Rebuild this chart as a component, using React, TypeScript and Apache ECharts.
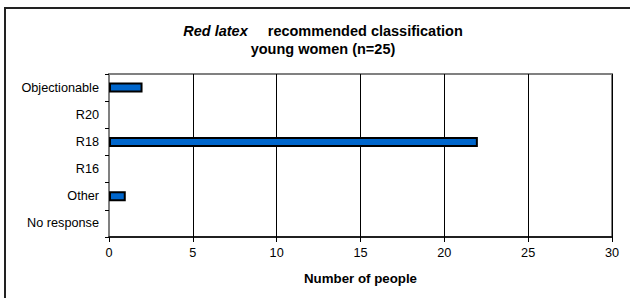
import React, { useEffect, useRef } from "react";
import * as echarts from "echarts";

const categories = ["Objectionable", "R20", "R18", "R16", "Other", "No response"];
const values = [2, 0, 22, 0, 1, 0];
const xTicks = [0, 5, 10, 15, 20, 25, 30];
const titleItalic = "Red latex";
const titleBold = "recommended classification";
const subtitle = "young women (n=25)";
const xAxisName = "Number of people";

export default function App() {
  const ref = useRef<HTMLDivElement>(null);
  useEffect(() => {
    if (!ref.current) return;
    const chart = echarts.init(ref.current, null, { renderer: "svg" });
    const font = "Liberation Sans, Arial, sans-serif";
    chart.setOption({
      animation: false,
      backgroundColor: "#fff",
      textStyle: { fontFamily: font },
      title: {
        text: `{i|${titleItalic}}    {b|${titleBold}}\n{b|${subtitle}}`,
        left: 318,
        top: 17,
        textAlign: "center",
        textStyle: {
          rich: {
            i: { fontStyle: "italic", fontWeight: "bold", fontSize: 14.5, fontFamily: font, color: "#000", lineHeight: 17 },
            b: { fontWeight: "bold", fontSize: 14.5, fontFamily: font, color: "#000", lineHeight: 17 },
          },
        },
      },
      graphic: [
        {
          type: "polyline",
          shape: { points: [[5, 320], [5, 8], [660, 8]] },
          style: { stroke: "#222", lineWidth: 2, fill: "none" },
          silent: true,
        },
      ],
      grid: { left: 109, right: 18, top: 74, bottom: 61, show: true, borderColor: "#808080", borderWidth: 2, backgroundColor: "transparent" },
      xAxis: {
        type: "value",
        min: xTicks[0],
        max: xTicks[xTicks.length - 1],
        interval: 5,
        name: xAxisName,
        nameLocation: "middle",
        nameGap: 35,
        nameTextStyle: { fontWeight: "bold", fontSize: 13.3, color: "#000", fontFamily: font },
        axisLine: { show: true, lineStyle: { color: "#000", width: 1.5 } },
        axisTick: { show: true, length: 5, lineStyle: { color: "#000" } },
        axisLabel: { color: "#000", fontSize: 12.7, margin: 9, fontFamily: font },
        splitLine: { show: true, lineStyle: { color: "#000", width: 1 } },
      },
      yAxis: {
        type: "category",
        data: categories,
        inverse: true,
        axisLine: { show: true, lineStyle: { color: "#808080", width: 2 } },
        axisTick: { show: true, length: 4, lineStyle: { color: "#000" } },
        axisLabel: { color: "#000", fontSize: 12.7, margin: 10, fontFamily: font },
        splitLine: { show: false },
      },
      series: [
        {
          type: "bar",
          data: values.map((v) => (v === 0 ? null : v)),
          barWidth: 10,
          itemStyle: { color: "#0066CC", borderColor: "#000", borderWidth: 2 },
        },
      ],
    });
    return () => chart.dispose();
  }, []);
  return <div ref={ref} style={{ width: 630, height: 298, position: "absolute", left: 0, top: 0 }} />;
}
